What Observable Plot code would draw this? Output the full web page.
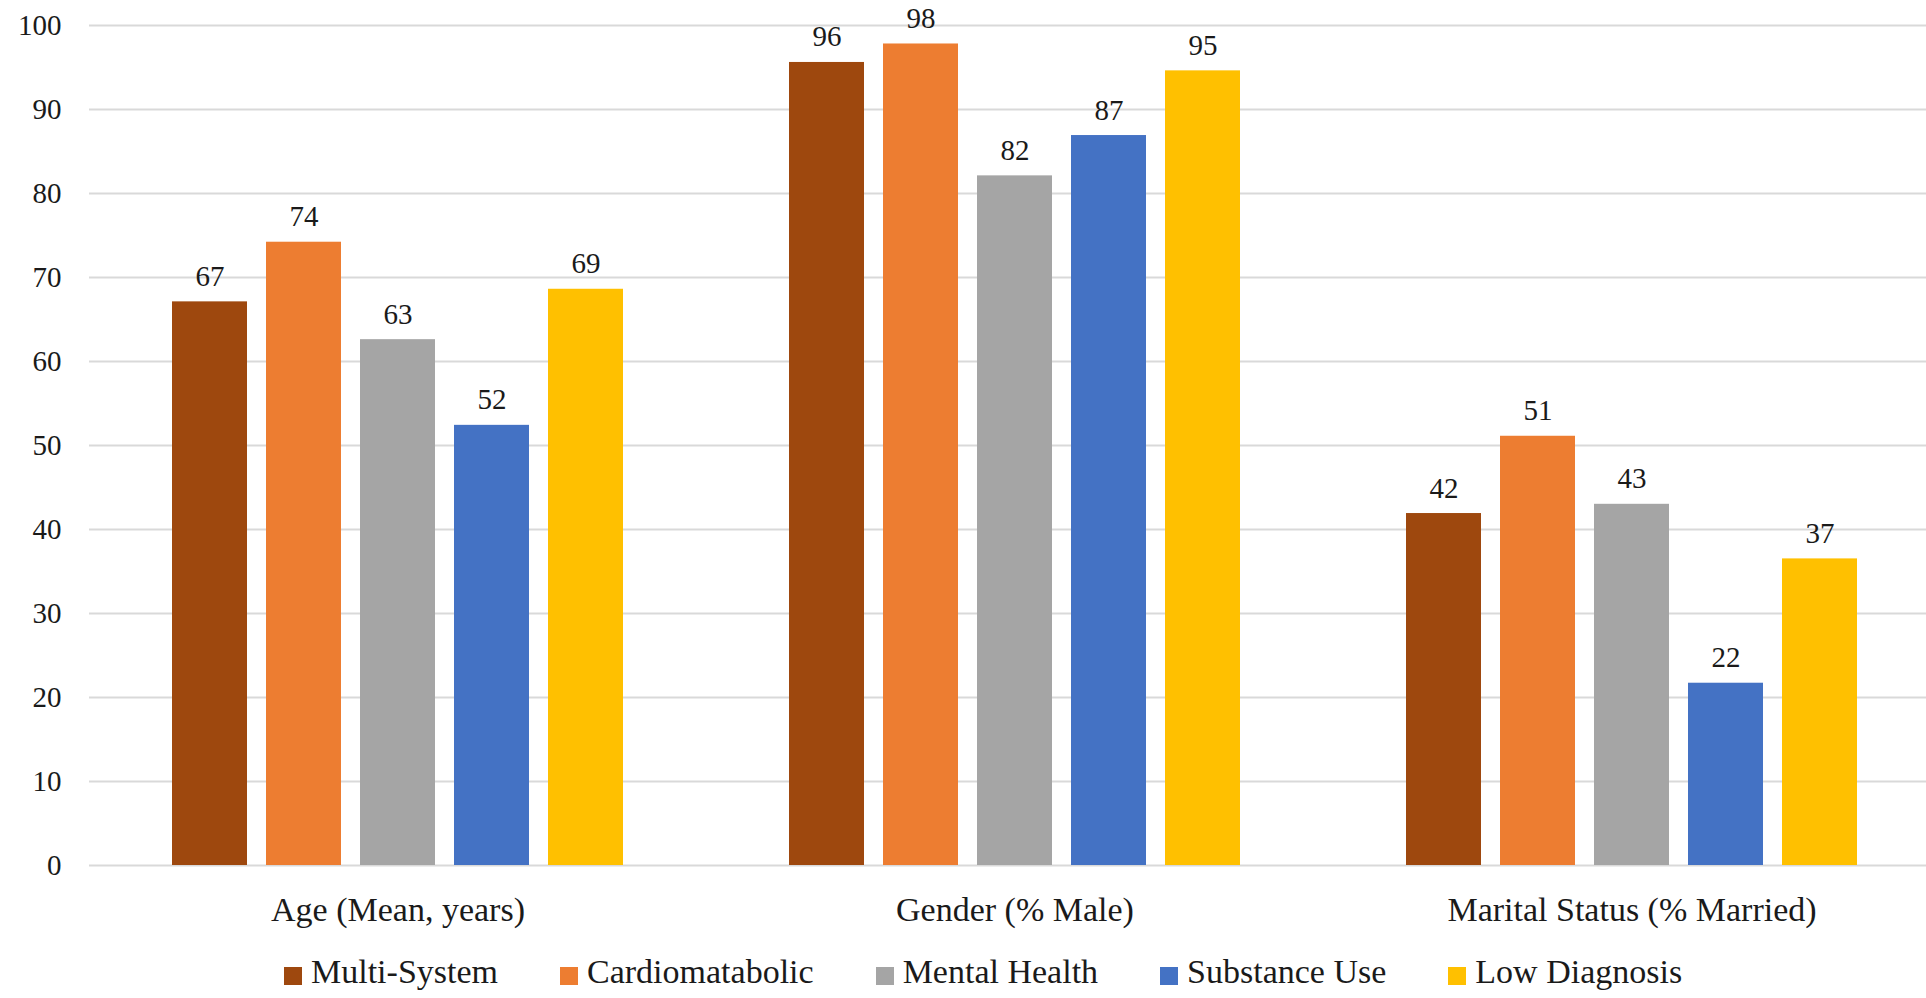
<!DOCTYPE html>
<html>
<head>
<meta charset="utf-8">
<script src="https://cdn.jsdelivr.net/npm/d3@7"></script>
<script src="https://cdn.jsdelivr.net/npm/@observablehq/plot@0.6"></script>
<style>
  html, body { margin: 0; padding: 0; background: #fff; overflow: hidden; }
  #chart svg { display: block; }
  #legend {
    position: relative;
    height: 58px;
    font-family: "Liberation Serif", "DejaVu Serif", serif;
    font-size: 34px;
    color: #1a1a1a;
    display: flex;
    padding-left: 284px;
    gap: 62px;
  }
  .item { display: inline-flex; align-items: flex-start; }
  .swatch { width: 18px; height: 18px; margin-top: 27px; margin-right: 9px; }
  .label { line-height: 34px; margin-top: 15px; white-space: nowrap; }
</style>
</head>
<body>
<div id="chart"></div>
<div id="legend"></div>
<script>
// Patient profile by cluster
const categories = ["Age (Mean, years)", "Gender (% Male)", "Marital Status (% Married)"];
const series = ["Multi-System", "Cardiomatabolic", "Mental Health", "Substance Use", "Low Diagnosis"];
const colors = ["#9E480E", "#ED7D31", "#A5A5A5", "#4472C4", "#FFC000"];

const ageValues = [67.1, 74.2, 62.6, 52.4, 68.6];
const genderValues = [95.6, 97.8, 82.1, 86.9, 94.6];
const maritalValues = [41.9, 51.1, 43.0, 21.7, 36.5];

const yTicks = [0, 10, 20, 30, 40, 50, 60, 70, 80, 90, 100];

const valuesByCategory = [ageValues, genderValues, maritalValues];
const rows = categories.flatMap((category, i) =>
  series.map((s, j) => ({category, series: s, value: valuesByCategory[i][j]}))
);

const ink = "#1a1a1a";
const serifFont = "'Liberation Serif', 'DejaVu Serif', serif";

const chart = Plot.plot({
  width: 1926,
  height: 940,
  marginLeft: 89,
  marginRight: 0,
  marginTop: 25,
  marginBottom: 75,
  style: {fontFamily: serifFont, color: ink, background: "white", overflow: "visible"},
  fx: {domain: categories, range: [89, 1940], padding: 0, label: null},
  x: {domain: series, paddingInner: 0.207, paddingOuter: 0.864, axis: null},
  y: {domain: [0, 100], ticks: yTicks, label: null},
  color: {domain: series, range: colors},
  marks: [
    Plot.gridY(yTicks, {stroke: "#d9d9d9", strokeWidth: 2, strokeOpacity: 1}),
    Plot.axisY(yTicks, {tickSize: 0, tickPadding: 28, fontSize: 29, label: null, fill: ink}),
    Plot.axisFx({anchor: "bottom", tickSize: 0, tickPadding: 31, fontSize: 34, label: null, fill: ink}),
    Plot.barY(rows, {fx: "category", x: "series", y: "value", fill: "series"}),
    Plot.text(rows, {
      fx: "category", x: "series", y: "value",
      text: d => String(Math.round(d.value)),
      lineAnchor: "bottom", dy: -16, fontSize: 29, fill: ink
    })
  ]
});
document.getElementById("chart").appendChild(chart);

// Legend row
const legend = d3.select("#legend");
series.forEach((s, i) => {
  const item = legend.append("div").attr("class", "item");
  item.append("div").attr("class", "swatch").style("background", colors[i]);
  item.append("div").attr("class", "label").text(s);
});
</script>
</body>
</html>
